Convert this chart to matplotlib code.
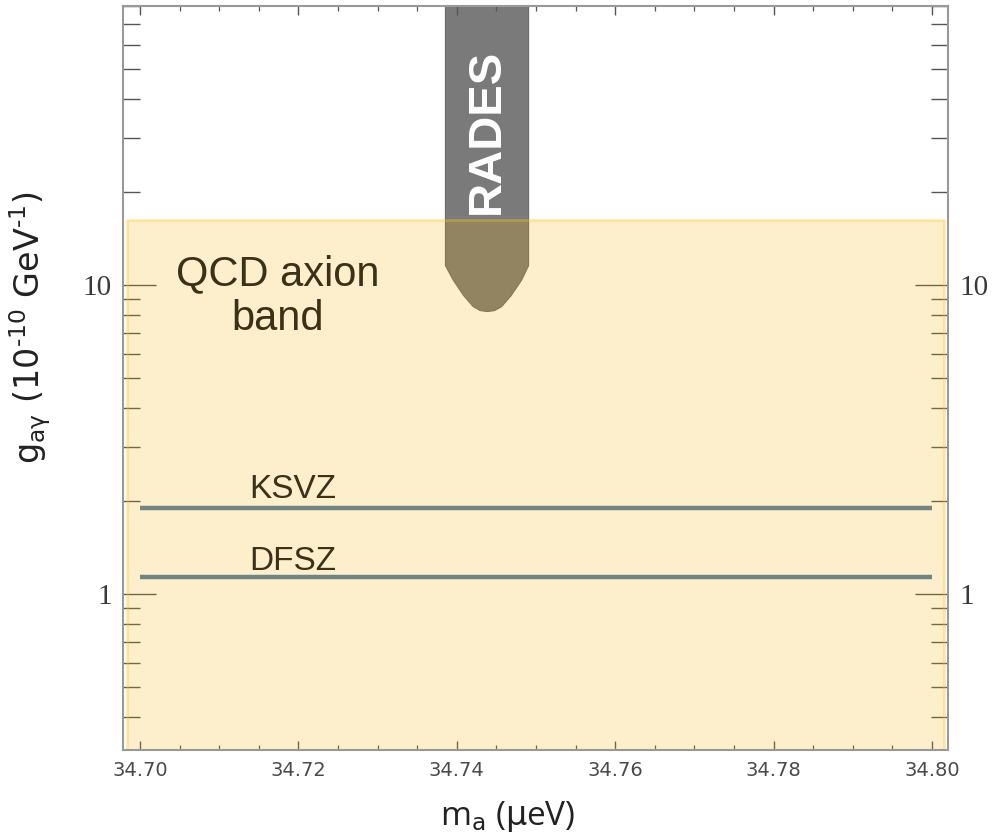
import numpy as np
import matplotlib.pyplot as plt
from matplotlib.ticker import MultipleLocator, LogLocator, NullFormatter, FixedLocator

plt.rcParams['mathtext.fontset'] = 'custom'
plt.rcParams['mathtext.rm'] = 'DejaVu Sans'
plt.rcParams['mathtext.it'] = 'DejaVu Sans:italic'

# axis ranges
x_lim = [34.69785, 34.80202]
y_lim = [0.313, 80.0]

# QCD axion band (yellow region)
band_x = [34.6984, 34.8015]
band_lo = [0.2, 0.2]
band_hi = [16.2, 16.2]

# RADES excluded region (lower boundary)
rades_x = [34.7385, 34.7395, 34.7408, 34.7420, 34.7429, 34.7438,
           34.7447, 34.7456, 34.7468, 34.7481, 34.7490]
rades_lo = [11.6, 10.4, 9.28, 8.55, 8.30, 8.24, 8.30, 8.55, 9.28, 10.4, 11.6]
rades_hi = [200.0] * len(rades_x)

# benchmark model lines
model_x = [34.70, 34.80]
ksvz_y = [1.90, 1.90]
dfsz_y = [1.14, 1.14]

xticks = [34.70, 34.72, 34.74, 34.76, 34.78, 34.80]
yticks = [1, 10]

fig = plt.figure(figsize=(9.92, 8.4), dpi=100)
ax = fig.add_axes([123/992, 90/840, 825/992, 744/840])

ax.set_yscale('log')
ax.set_xlim(x_lim)
ax.set_ylim(y_lim)

# grey RADES band first, yellow band on top with alpha
ax.fill_between(rades_x, rades_lo, rades_hi, facecolor='#7a7a7a',
                edgecolor='#6a6a6a', lw=0.8, zorder=1)
ax.fill_between(band_x, band_lo, band_hi, facecolor=(0.96, 0.69, 0.0, 0.2),
                edgecolor=(1.0, 0.78, 0.1, 0.35), lw=2, zorder=2)

ax.plot(model_x, ksvz_y, color='#6f8484', lw=3.2, solid_capstyle='butt', zorder=3)
ax.plot(model_x, dfsz_y, color='#6f8484', lw=3.2, solid_capstyle='butt', zorder=3)

txt = '#3a3116'
ax.text(34.7174, 9.15, 'QCD axion\nband', ha='center', va='center',
        fontsize=30, color=txt, family='Liberation Sans', linespacing=1.15, zorder=4)
ax.text(34.7138, 2.05, 'KSVZ', ha='left', va='baseline', fontsize=24,
        color=txt, family='Liberation Sans', zorder=4)
ax.text(34.7138, 1.20, 'DFSZ', ha='left', va='baseline', fontsize=24,
        color=txt, family='Liberation Sans', zorder=4)
ax.text(34.7438, 31.5, 'RADES', rotation=90, ha='center', va='center',
        fontsize=34, color='white', family='Liberation Sans', fontweight='bold', zorder=4)

# ticks
ax.xaxis.set_major_locator(FixedLocator(xticks))
ax.xaxis.set_minor_locator(MultipleLocator(0.005))
ax.set_xticklabels(['%.2f' % v for v in xticks])
ax.yaxis.set_major_locator(FixedLocator(yticks))
ax.yaxis.set_minor_locator(LogLocator(base=10, subs=np.arange(2, 10)))
ax.yaxis.set_minor_formatter(NullFormatter())
ax.set_yticklabels(['1', '10'])

ax.tick_params(axis='x', which='major', direction='in', length=6.5, width=1.0,
               color='#555555', top=True, labelsize=14, labelcolor='#4a4a4a', pad=8)
ax.tick_params(axis='x', which='minor', direction='in', length=3.8, width=0.9,
               color='#555555', top=True)
ax.tick_params(axis='y', which='major', direction='in', length=24, width=1.0,
               color='#555555', right=True, labelright=True, labelsize=21,
               labelcolor='#3a3a3a', pad=8)
ax.tick_params(axis='y', which='minor', direction='in', length=12.5, width=1.0,
               color='#555555', right=True)
for lab in ax.get_xticklabels():
    lab.set_family('DejaVu Sans')
for lab in ax.get_yticklabels():
    lab.set_family('Liberation Serif')

for s in ax.spines.values():
    s.set_color('#999999')
    s.set_linewidth(1.5)

fig.text(508/992, 1 - 817/840, r'm$_{\mathrm{a}}$ ($\mathrm{\mu}$eV)', ha='center', va='center',
         fontsize=24, family='Open Sans', color='#222222')
fig.text(30/992, 1 - 328/840,
         'g$_{\\mathrm{a\\gamma}}$ (10$^{\\mathrm{\u201010}}$ GeV$^{\\mathrm{\u20101}}$)',
         ha='center', va='center', rotation=90, fontsize=24,
         family='DejaVu Sans', color='#222222')

plt.savefig('out.png', dpi=100)
